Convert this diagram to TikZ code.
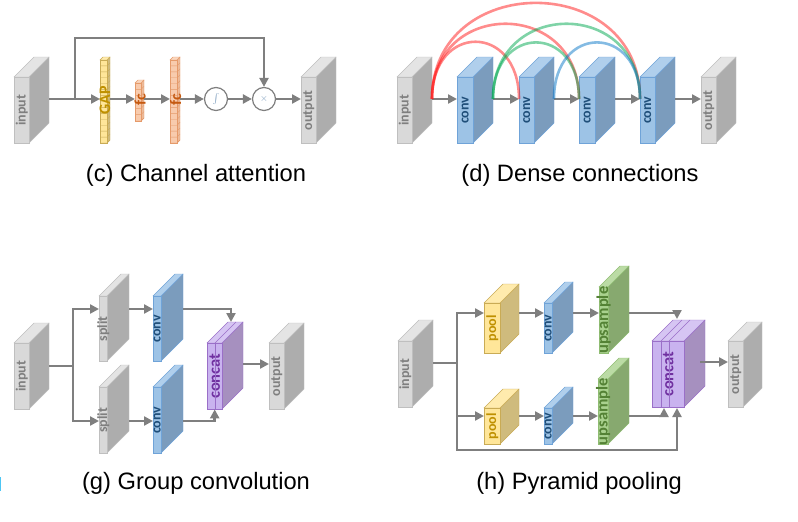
\documentclass[tikz,border=0pt]{standalone}
\usepackage{fontspec}
\usepackage{amsmath, amssymb}
\setmainfont{Liberation Sans}
\newfontfamily\lblfont{Carlito}
\usetikzlibrary{positioning, arrows.meta}

\definecolor{grayfront}{HTML}{D9D9D9}
\definecolor{grayedge}{HTML}{BFBFBF}
\definecolor{graytop}{HTML}{E4E4E4}
\definecolor{grayside}{HTML}{ADADAD}
\definecolor{graytext}{HTML}{7F7F7F}
\definecolor{bluefront}{HTML}{9DC3E6}
\definecolor{blueedge}{HTML}{6FA3D8}
\definecolor{bluetop}{HTML}{B0CFEC}
\definecolor{blueside}{HTML}{7B9CBD}
\definecolor{bluetext}{HTML}{1F4E79}
\definecolor{yelfront}{HTML}{FFE699}
\definecolor{yeledge}{HTML}{C9AB55}
\definecolor{yeltop}{HTML}{FFEBAD}
\definecolor{yelside}{HTML}{CFBB7D}
\definecolor{yeltext}{HTML}{BF9000}
\definecolor{orfront}{HTML}{F8CBAD}
\definecolor{oredge}{HTML}{E59A6A}
\definecolor{ortop}{HTML}{FAD7BF}
\definecolor{orside}{HTML}{EDBB9A}
\definecolor{ortext}{HTML}{C55A11}
\definecolor{grnfront}{HTML}{A9D18E}
\definecolor{grnedge}{HTML}{8FBC72}
\definecolor{grntop}{HTML}{BBDBA5}
\definecolor{grnside}{HTML}{87A96F}
\definecolor{grntext}{HTML}{548235}
\definecolor{purfront}{HTML}{C9B3EF}
\definecolor{puredge}{HTML}{9A6FC8}
\definecolor{purtop}{HTML}{D6C5F3}
\definecolor{purside}{HTML}{A690BF}
\definecolor{purtext}{HTML}{7030A0}
\definecolor{flowgray}{HTML}{7F7F7F}
\definecolor{hopred}{HTML}{FF1A1A}
\definecolor{hopgreen}{HTML}{00A850}
\definecolor{hopblue}{HTML}{0A78C8}

\tikzset{
  flow/.style={draw=flowgray, line width=2.6pt, -{Stealth[length=9pt,width=9pt,inset=0pt]}},
  wire/.style={draw=flowgray, line width=2.6pt},
  hop/.style={line width=2.6pt, opacity=0.5, out=90, in=90},
  lbl/.style={rotate=90, inner sep=0pt, font=\lblfont\bfseries\fontsize{14}{15}\selectfont},
  captxt/.style={inner sep=0pt, font=\fontsize{23.7}{26}\selectfont},
  op/.style={draw=flowgray, fill=white, circle, line width=1.2pt, minimum size=23pt, inner sep=0pt, text=blueside},
}
\newcommand{\bigtxt}{\fontsize{16.5}{17}\selectfont}

% name, colour, left, front top, width, height, depth, port y, text
\newcommand{\layer}[9]{
  \fill[#2side, draw=#2edge] (#3+#5,#4) -- ++(#7,-#7) -- ++(0,#6) -- ++(-#7,#7) -- cycle;
  \fill[#2top, draw=#2edge] (#3,#4) -- ++(#7,-#7) -- ++(#5,0) -- ++(-#7,#7) -- cycle;
  \node[draw=#2edge, fill=#2front, anchor=north west, inner sep=0pt, minimum width=#5pt, minimum height=#6pt] (#1) at (#3,#4) {};
  \node[lbl, text=#2text] (#1-t) at (#1.center) {#9};
  \coordinate (#1-i) at (#3,#8);
  \coordinate (#1-o) at (#3+#5+#7,#8);
}
% left, front top, width, height, depth, cells, colour
\newcommand{\cells}[7]{
  \foreach \k in {1,...,#6}
    \draw[#7edge] (#1,{#2+\k*#4/#6}) -- ++(#3,0) -- ++(#5,-#5);
}

\begin{document}
\begin{tikzpicture}[x=1pt, y=-1pt]
\useasboundingbox (0,0) rectangle (798,522);
\fill[cyan!70] (0,477) rectangle (1,491);

% channel attention
\layer{ci}{gray}{14}{77}{15}{66}{20}{99}{input}
\layer{gap}{yel}{100}{60}{7}{83}{3}{99}{}
\cells{100}{60}{7}{83}{3}{14}{yel}
\node[lbl, text=yeltext, font=\lblfont\bfseries\fontsize{16}{17}\selectfont] (gap-l) at (105,100) {GAP};
\layer{fca}{or}{135}{83}{6}{38}{3}{99}{}
\cells{135}{83}{6}{38}{3}{6}{or}
\node[lbl, text=ortext, font=\lblfont\bfseries\fontsize{16}{17}\selectfont] (fca-l) at (140,100) {fc};
\layer{fcb}{or}{170}{60}{7}{83}{3}{99}{}
\cells{170}{60}{7}{83}{3}{14}{or}
\node[lbl, text=ortext, font=\lblfont\bfseries\fontsize{16}{17}\selectfont] (fcb-l) at (175.5,100) {fc};
\node[op] (sig) at (216,99) {$\int$};
\node[op] (mul) at (264,99) {$\times$};
\layer{co}{gray}{301}{77}{15}{66}{20}{99}{output}
\coordinate (tap) at (75,99);
\draw[flow] (ci-o) -- (gap-i);
\draw[flow] (gap-o) -- (fca-i);
\draw[flow] (fca-o) -- (fcb-i);
\draw[flow] (fcb-o) -- (sig);
\draw[flow] (sig) -- (mul);
\draw[flow] (mul) -- (co-i);
\draw[flow] (tap) |- (mul.north |- 0,38) -- (mul);
\node[captxt] (capc) at (196,175) {(c) Channel attention};

% dense connections
\layer{di}{gray}{397}{77}{15}{66}{20}{99}{input}
\layer{da}{blue}{457}{77}{16}{66}{20}{99}{conv}
\layer{db}{blue}{519}{77}{15}{66}{20}{99}{conv}
\layer{dc}{blue}{579}{77}{16}{66}{20}{99}{conv}
\layer{dd}{blue}{640}{77}{15}{66}{20}{99}{conv}
\layer{do}{gray}{701}{77}{15}{66}{20}{99}{output}
\draw[flow] (di-o) -- (da-i);
\draw[flow] (da-o) -- (db-i);
\draw[flow] (db-o) -- (dc-i);
\draw[flow] (dc-o) -- (dd-i);
\draw[flow] (dd-o) -- (do-i);
\draw[hop, hopred] (di-o) to[looseness=2.25] (db-i);
\draw[hop, hopred] (di-o) to[looseness=1.75] (dc-i);
\draw[hop, hopred] (di-o) to[looseness=1.58] (dd-i);
\draw[hop, hopgreen] (da-o) to[looseness=2.25] (dc-i);
\draw[hop, hopgreen] (da-o) to[looseness=1.75] (dd-i);
\draw[hop, hopblue] (db-o) to[looseness=2.25] (dd-i);
\node[captxt] (capd) at (580,175) {(d) Dense connections};

% group convolution
\layer{gi}{gray}{14}{343}{15}{66}{20}{366}{input}
\layer{sa}{gray}{99}{296}{8}{65}{22}{309}{split}
\layer{sb}{gray}{99}{387}{8}{66}{22}{421}{split}
\layer{ga}{blue}{153}{296}{8}{65}{22}{309}{conv}
\layer{gb}{blue}{153}{387}{8}{66}{22}{421}{conv}
\layer{gc}{pur}{207}{343}{15}{66}{21}{364}{\bigtxt concat}
\draw[puredge] (215,343) -- ++(0,66);
\draw[puredge] (215,343) -- ++(21,-21);
\layer{go}{gray}{269}{343}{15}{66}{20}{364}{output}
\coordinate (gj) at (73,366);
\coordinate (gca) at (231,322);
\draw[wire] (gi-o) -- (gj);
\draw[flow] (gj) |- (sa-i);
\draw[flow] (gj) |- (sb-i);
\draw[flow] (sa-o) -- (ga-i);
\draw[flow] (sb-o) -- (gb-i);
\draw[flow] (ga-o) -| (gca);
\draw[flow] (gb-o) -| (gc.south);
\draw[flow] (gc-o) -- (go-i);
\node[captxt] (capg) at (196,483) {(g) Group convolution};

% pyramid pooling
\layer{hi}{gray}{398}{341}{14}{66}{21}{363}{input}
\layer{pa}{yel}{484}{303}{16}{50}{19}{313}{pool}
\layer{pb}{yel}{484}{408}{16}{36}{19}{416}{pool}
\layer{ha}{blue}{544}{303}{8}{50}{21}{313}{conv}
\layer{hb}{blue}{544}{408}{8}{36}{21}{416}{conv}
\layer{ua}{grn}{599}{287}{9}{66}{21}{313}{\bigtxt upsample}
\layer{ub}{grn}{598}{379}{10}{65}{21}{416}{\bigtxt upsample}
\layer{hc}{pur}{652}{341}{32}{66}{21}{362}{\bigtxt concat}
\draw[puredge] (661,341) -- ++(0,66);
\draw[puredge] (669,341) -- ++(0,66);
\draw[puredge] (661,341) -- ++(21,-21);
\draw[puredge] (669,341) -- ++(21,-21);
\layer{ho}{gray}{728}{341}{15}{66}{19}{362}{output}
\coordinate (hj) at (457,363);
\coordinate (hja) at (664,408);
\coordinate (hjb) at (677,408);
\coordinate (hjc) at (677,319);
\coordinate (hjd) at (457,450);
\draw[wire] (hi-o) -- (hj);
\draw[flow] (hj) |- (pa-i);
\draw[flow] (hj |- pb-i) -- (pb-i);
\draw[flow] (hj) -- (hjd) -| (hjb);
\draw[flow] (pa-o) -- (ha-i);
\draw[flow] (pb-o) -- (hb-i);
\draw[flow] (ha-o) -- (ua-i);
\draw[flow] (hb-o) -- (ub-i);
\draw[flow] (ua-o) -| (hjc);
\draw[flow] (ub-o) -| (hja);
\draw[flow, shorten <=-5pt] (hc-o) -- (ho-i);
\node[captxt] (caph) at (579,483) {(h) Pyramid pooling};
\end{tikzpicture}
\end{document}
